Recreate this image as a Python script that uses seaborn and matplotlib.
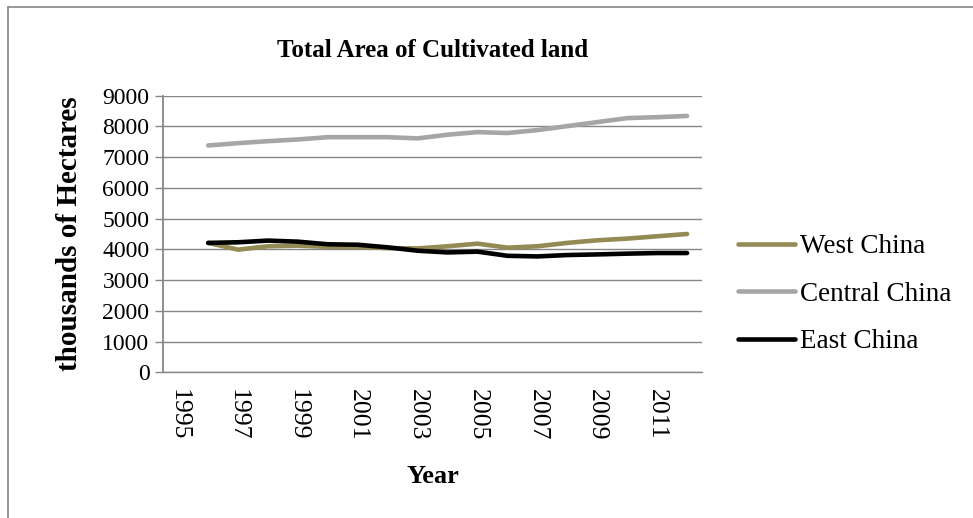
import matplotlib
matplotlib.use("Agg")
import matplotlib.pyplot as plt
from matplotlib.lines import Line2D
import seaborn as sns
import pandas as pd

years = list(range(1996, 2013))
west_china = [4210, 3990, 4100, 4120, 4080, 4080, 4040, 4030, 4100,
              4185, 4055, 4100, 4210, 4295, 4350, 4425, 4500]
central_china = [7380, 7455, 7520, 7575, 7650, 7650, 7650, 7610, 7730,
                 7815, 7785, 7880, 8010, 8140, 8270, 8300, 8340]
east_china = [4210, 4230, 4285, 4250, 4165, 4150, 4065, 3955, 3900,
              3925, 3790, 3770, 3815, 3835, 3860, 3880, 3880]
series_names = ["West China", "Central China", "East China"]
series_colors = ["#948A54", "#A6A6A6", "#000000"]
year_ticks = list(range(1995, 2012, 2))
value_ticks = list(range(0, 9001, 1000))

df = pd.DataFrame({
    "Year": years * 3,
    "Area": west_china + central_china + east_china,
    "Region": [n for n in series_names for _ in years],
})

sns.set_theme(style="white")
plt.rcParams["font.family"] = ["Liberation Serif", "DejaVu Serif"]
plt.rcParams["text.color"] = "black"
plt.rcParams["axes.labelcolor"] = "black"

fig = plt.figure(figsize=(9.73, 5.18), dpi=100)
ax = fig.add_axes([0.1678, 0.2813, 0.7215 - 0.1678, 0.8153 - 0.2813])

grid_color = "#868686"
sns.lineplot(data=df, x="Year", y="Area", hue="Region", hue_order=series_names,
             palette=dict(zip(series_names, series_colors)), linewidth=3.3,
             ax=ax, legend=False, solid_capstyle="round")

ax.set_xlim(1994.5, 2012.5)
ax.set_ylim(0, 9000)
ax.set_xticks(year_ticks)
ax.set_xticklabels([str(y) for y in year_ticks], rotation=-90, fontsize=18.5)
ax.set_yticks(value_ticks)
ax.set_yticklabels([str(v) for v in value_ticks], fontsize=17)
ax.yaxis.grid(True, color=grid_color, linewidth=1.0)
ax.set_axisbelow(True)
for side in ["top", "right"]:
    ax.spines[side].set_visible(False)
ax.spines["bottom"].set_color(grid_color)
ax.spines["bottom"].set_linewidth(1.0)
ax.spines["left"].set_color(grid_color)
ax.spines["left"].set_linewidth(1.3)
ax.tick_params(axis="y", which="major", left=True, length=6, width=1.0,
               color=grid_color, pad=4, labelcolor="black")
ax.tick_params(axis="x", which="major", bottom=False, length=0, pad=12,
               labelcolor="black")

ax.set_xlabel("Year", fontsize=19, fontweight="bold", labelpad=18)
ax.set_ylabel("thousands of Hectares", fontsize=21, fontweight="bold", labelpad=14)
ax.set_title("Total Area of Cultivated land", fontsize=18, fontweight="bold", pad=28)

handles = [Line2D([0], [0], color=c, linewidth=3.3, solid_capstyle="round")
           for c in series_colors]
fig.legend(handles, series_names, loc="center left",
           bbox_to_anchor=(0.7335, 0.4324), frameon=False, fontsize=19.5,
           handlelength=2.1, handletextpad=0.2, labelspacing=0.83)

# chart frame edges along top and left
fig.add_artist(Line2D([7.5 / 973, 7.5 / 973], [0, 1 - 7 / 518],
                      transform=fig.transFigure, color=grid_color, linewidth=1.2))
fig.add_artist(Line2D([7.5 / 973, 1], [1 - 7 / 518, 1 - 7 / 518],
                      transform=fig.transFigure, color=grid_color, linewidth=1.2))

fig.savefig("out.png", dpi=100, facecolor="white")
